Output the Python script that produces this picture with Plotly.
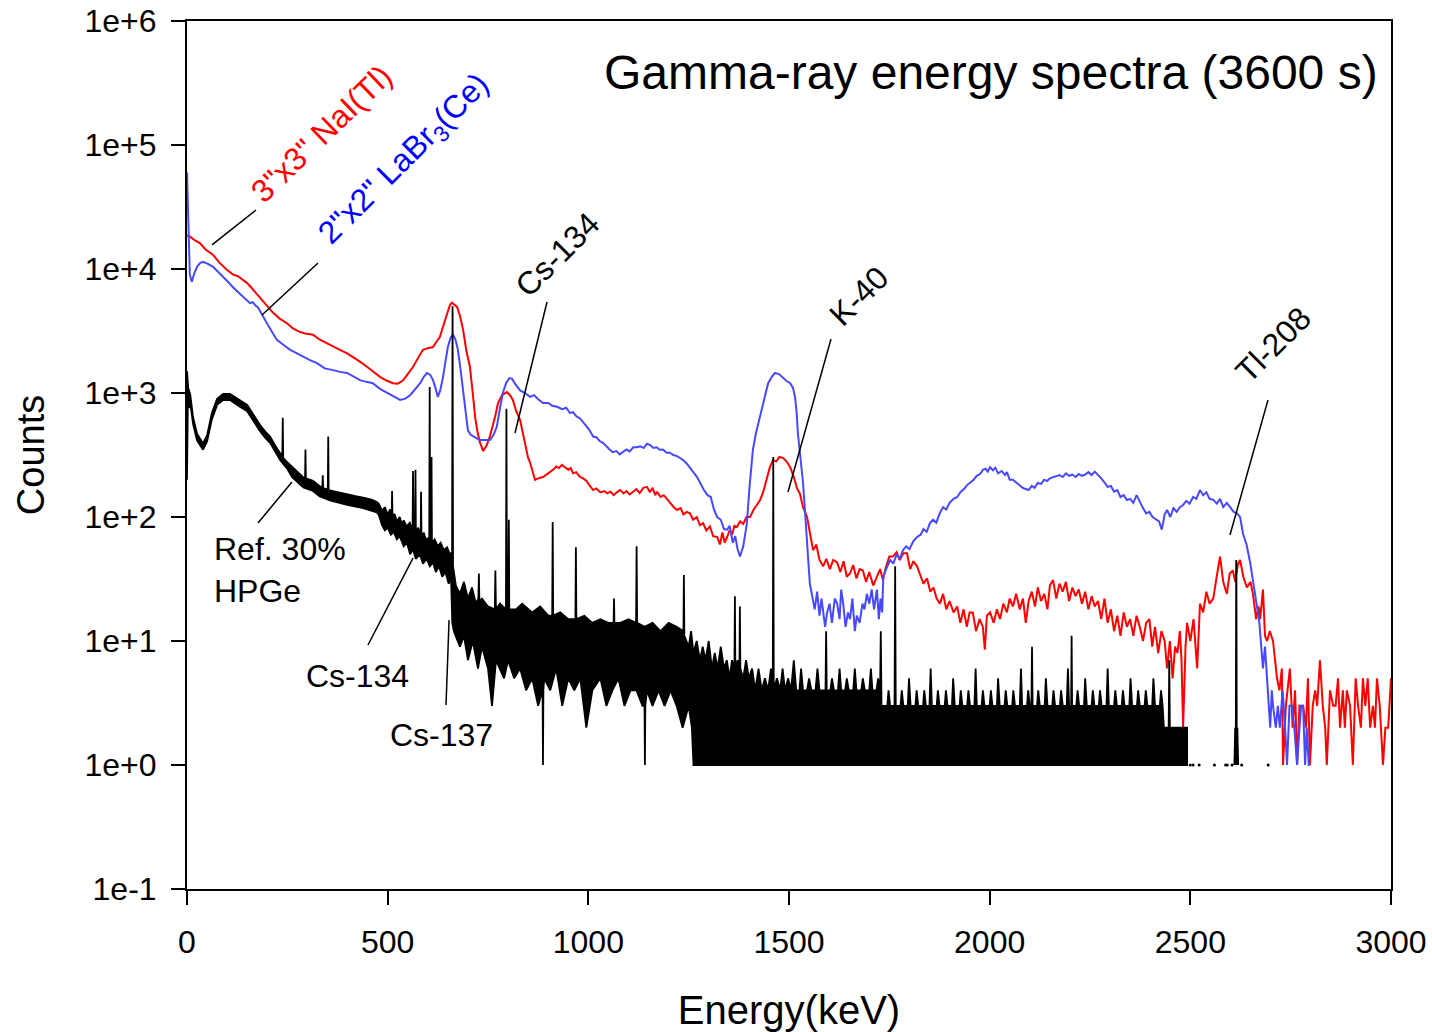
import plotly.graph_objects as go

# ---------------- data ----------------
# 3"x3" NaI(Tl) spectrum
red_energy = [
    0, 3, 10, 20, 32, 45, 65, 80, 100, 115,
    127, 140, 150, 165, 182, 198, 214, 230, 249, 265,
    282, 298, 314, 330, 349, 365, 381, 398, 414, 430,
    449, 465, 481, 497, 513, 525, 538, 550, 563, 575,
    588, 600, 613, 622, 630, 640, 648, 655, 660, 666,
    673, 680, 688, 696, 705, 712, 718, 724, 730, 738,
    747, 755, 762, 768, 775, 785, 797, 805, 812, 820,
    830, 842, 850, 855, 861, 867, 875, 887, 900, 912,
    920, 927, 934, 942, 950, 956, 962, 970, 978, 987,
    995, 1003, 1012, 1020, 1030, 1040, 1047, 1055, 1063, 1071,
    1079, 1088, 1095, 1103, 1111, 1120, 1128, 1137, 1146, 1153,
    1160, 1167, 1171, 1180, 1188, 1196, 1205, 1213, 1221, 1230,
    1237, 1245, 1253, 1261, 1270, 1278, 1286, 1294, 1303, 1311,
    1321, 1328, 1334, 1340, 1346, 1352, 1358, 1364, 1370, 1378,
    1386, 1394, 1403, 1412, 1420, 1428, 1436, 1444, 1452, 1460,
    1468, 1476, 1485, 1494, 1503, 1512, 1520, 1527, 1535, 1545,
    1552, 1560, 1568, 1576, 1585, 1593, 1602, 1610, 1620, 1628,
    1636, 1644, 1652, 1660, 1668, 1676, 1684, 1692, 1700, 1710,
    1719, 1727, 1734, 1742, 1750, 1759, 1768, 1776, 1785, 1794,
    1802, 1810, 1819, 1827, 1835, 1844, 1852, 1860, 1868, 1876,
    1884, 1892, 1900, 1910, 1919, 1927, 1935, 1943, 1950, 1958,
    1966, 1975, 1983, 1988, 1993, 2001, 2010, 2018, 2026, 2034,
    2043, 2050, 2058, 2066, 2075, 2083, 2090, 2097, 2105, 2113,
    2120, 2128, 2136, 2144, 2150, 2158, 2166, 2174, 2182, 2190,
    2198, 2206, 2214, 2222, 2230, 2238, 2246, 2254, 2262, 2270,
    2278, 2286, 2294, 2302, 2310, 2318, 2326, 2334, 2342, 2350,
    2358, 2366, 2374, 2382, 2390, 2398, 2405, 2412, 2420, 2428,
    2436, 2442, 2449, 2456, 2462, 2468, 2474, 2478, 2482, 2488,
    2492, 2500, 2508, 2517, 2524, 2532, 2540, 2548, 2557, 2565,
    2574, 2582, 2591, 2598, 2606, 2612, 2618, 2624, 2632, 2641,
    2650, 2656, 2664, 2670, 2674, 2681, 2686, 2691, 2698, 2706,
    2712, 2716, 2722, 2728, 2731, 2738, 2748, 2755, 2761, 2766,
    2772, 2781, 2788, 2793, 2798, 2805, 2811, 2816, 2823, 2830,
    2836, 2840, 2848, 2856, 2862, 2868, 2873, 2880, 2885, 2890,
    2898, 2905, 2912, 2918, 2925, 2930, 2936, 2942, 2948, 2955,
    2960, 2965, 2972, 2980, 2986, 2993, 3000,
]
red_counts = [
    18500, 18500, 18000, 17000, 16200, 14500, 13000, 11300, 9800, 9000,
    8750, 8200, 7700, 6800, 5900, 5100, 4450, 4000, 3650, 3300,
    3100, 3000, 2950, 2700, 2500, 2350, 2230, 2100, 1950, 1800,
    1620, 1480, 1350, 1260, 1200, 1190, 1260, 1420, 1620, 1900,
    2230, 2300, 2350, 2600, 2830, 3600, 4450, 5100, 5350, 5200,
    4950, 4200, 3230, 2200, 1620, 1000, 640, 480, 400, 340,
    380, 450, 535, 650, 830, 960, 1020, 960, 880, 720,
    605, 395, 300, 274, 230, 199, 205, 210, 225, 240,
    255, 248, 263, 250, 240, 248, 225, 230, 212, 205,
    196, 180, 165, 170, 158, 162, 155, 160, 150, 158,
    165, 155, 162, 152, 160, 168, 156, 172, 175, 160,
    170, 150, 160, 145, 150, 140, 128, 120, 114, 118,
    105, 110, 107, 95, 100, 86, 89, 78, 84, 70,
    69, 60, 75, 62, 69, 78, 72, 85, 83, 92,
    88, 100, 100, 115, 125, 137, 160, 200, 250, 288,
    280, 305, 300, 280, 252, 210, 170, 155, 120, 100,
    75, 54, 60, 45, 40, 46, 38, 45, 43, 36,
    44, 33, 35, 41, 32, 38, 37, 30, 36, 28,
    33, 38, 31, 40, 48, 48, 52, 45, 51, 51,
    38, 44, 40, 34, 29, 32, 25, 27, 22, 20,
    24, 18, 21, 17, 19, 14, 18, 13, 17, 17,
    12, 15, 13, 8.5, 16, 17, 14, 18, 15, 20,
    17, 22, 19, 24, 18, 22, 14, 21, 25, 19,
    27, 21, 24, 18, 28, 31, 22, 29, 25, 30,
    21, 27, 23, 26, 20, 25, 18, 23, 19, 21,
    15, 22, 14, 18, 12, 16, 11, 17, 13, 15,
    11, 16, 13, 10, 14, 15, 9, 13, 8, 12,
    10, 6, 10, 5, 9, 8, 12, 7, 2, 9,
    14, 10, 15, 6, 20, 17, 25, 20, 22, 32,
    48, 30, 24, 35, 37, 30, 41, 45, 33, 27,
    30, 24, 15, 19, 15, 26, 11, 10, 12, 10,
    7, 5, 4, 6, 1, 3, 6, 2, 4, 1,
    3, 3, 2, 5, 1, 3, 4, 3, 7, 3,
    2, 1, 4, 3, 3, 5, 2, 4, 2, 4,
    3, 1, 5, 3, 2, 5, 3, 5, 2, 3,
    2, 5, 3, 1, 2, 2, 5,
]

# 2"x2" LaBr3(Ce) spectrum
blue_energy = [
    0, 3, 7, 12, 18, 25, 33, 40, 52, 65,
    78, 90, 102, 115, 128, 140, 150, 157, 164, 170,
    177, 188, 199, 212, 224, 240, 257, 273, 289, 305,
    324, 343, 364, 381, 399, 415, 431, 447, 463, 481,
    498, 515, 531, 544, 556, 568, 581, 590, 598, 606,
    613, 619, 625, 631, 638, 644, 650, 657, 663, 669,
    675, 681, 688, 694, 700, 707, 713, 722, 730, 742,
    755, 764, 772, 780, 787, 795, 803, 810, 818, 830,
    842, 855, 865, 875, 887, 900, 910, 922, 935, 945,
    954, 962, 970, 980, 987, 995, 1003, 1012, 1020, 1028,
    1037, 1045, 1053, 1061, 1070, 1078, 1086, 1095, 1103, 1112,
    1121, 1130, 1138, 1146, 1154, 1162, 1170, 1178, 1186, 1195,
    1203, 1212, 1221, 1229, 1236, 1245, 1253, 1262, 1271, 1280,
    1288, 1297, 1305, 1313, 1321, 1330, 1338, 1346, 1352, 1360,
    1366, 1372, 1378, 1386, 1395, 1402, 1410, 1418, 1428, 1438,
    1448, 1457, 1465, 1475, 1485, 1494, 1503, 1510, 1515, 1519,
    1522, 1528, 1535, 1540, 1545, 1549, 1552, 1558, 1564, 1570,
    1576, 1581, 1585, 1590, 1595, 1601, 1607, 1614, 1620, 1626,
    1630, 1635, 1641, 1647, 1652, 1658, 1664, 1669, 1676, 1683,
    1688, 1694, 1700, 1706, 1712, 1719, 1724, 1728, 1732, 1735,
    1742, 1752, 1760, 1768, 1776, 1784, 1792, 1800, 1810, 1819,
    1828, 1835, 1843, 1851, 1859, 1867, 1876, 1884, 1892, 1900,
    1910, 1919, 1928, 1936, 1943, 1951, 1960, 1968, 1976, 1983,
    1990, 1995, 2001, 2008, 2014, 2021, 2030, 2038, 2043, 2050,
    2058, 2066, 2074, 2082, 2090, 2097, 2105, 2112, 2120, 2128,
    2136, 2143, 2150, 2158, 2166, 2174, 2182, 2190, 2198, 2206,
    2214, 2222, 2230, 2238, 2246, 2254, 2262, 2270, 2278, 2286,
    2294, 2302, 2310, 2318, 2326, 2334, 2342, 2350, 2358, 2366,
    2374, 2382, 2390, 2398, 2406, 2414, 2422, 2429, 2436, 2442,
    2450, 2458, 2466, 2474, 2482, 2490, 2498, 2507, 2515, 2524,
    2532, 2540, 2548, 2557, 2566, 2574, 2582, 2591, 2600, 2608,
    2616, 2624, 2631, 2640, 2649, 2657, 2666, 2672, 2677, 2681,
    2686, 2691, 2695, 2699, 2703, 2706, 2713, 2718, 2723, 2730,
    2736, 2741, 2747, 2753, 2759, 2766, 2772, 2776, 2781, 2786,
    2790, 2795, 2798,
]
blue_counts = [
    60000, 30000, 9000, 7900, 9200, 10400, 11200, 11400, 11000, 10400,
    9500, 8700, 7900, 7100, 6500, 5900, 5500, 5300, 5400, 5100,
    4900, 4200, 3660, 3100, 2680, 2450, 2230, 2100, 1960, 1850,
    1740, 1580, 1530, 1480, 1450, 1350, 1270, 1230, 1200, 1080,
    1000, 940, 880, 900, 960, 1080, 1200, 1350, 1450, 1400,
    1270, 1100, 930, 1050, 1350, 1800, 2350, 2800, 2950, 2700,
    2230, 1600, 1050, 700, 500, 460, 445, 430, 418, 420,
    418, 460, 535, 760, 1000, 1200, 1320, 1300, 1180, 1050,
    1000, 930, 960, 890, 830, 830, 790, 775, 740, 760,
    690, 700, 650, 620, 575, 540, 500, 445, 440, 410,
    395, 370, 350, 333, 340, 320, 333, 350, 338, 365,
    365, 372, 360, 390, 380, 360, 365, 348, 350, 330,
    330, 316, 310, 300, 288, 270, 250, 225, 210, 185,
    165, 150, 145, 115, 100, 95, 80, 79, 85, 62,
    70, 55, 48, 58, 89, 180, 348, 480, 640, 900,
    1200, 1350, 1450, 1420, 1320, 1250, 1200, 1100, 930, 700,
    478, 300, 188, 110, 69, 40, 29, 22, 18, 25,
    16, 22, 18, 13, 17, 20, 14, 22, 20, 15,
    26, 20, 13, 17, 15, 22, 12, 16, 14, 20,
    18, 24, 20, 26, 18, 26, 15, 22, 17, 33,
    38, 45, 42, 50, 46, 54, 58, 55, 64, 69,
    72, 80, 76, 89, 95, 90, 108, 120, 115, 130,
    140, 145, 160, 168, 180, 188, 200, 215, 222, 240,
    245, 232, 252, 238, 250, 225, 235, 218, 230, 200,
    200, 190, 182, 172, 168, 165, 178, 172, 188, 185,
    200, 195, 205, 210, 212, 218, 210, 225, 215, 220,
    210, 222, 215, 220, 230, 218, 232, 220, 205, 190,
    175, 178, 160, 165, 145, 150, 137, 140, 130, 150,
    132, 118, 107, 110, 100, 96, 92, 79, 105, 114,
    100, 118, 110, 120, 125, 135, 128, 145, 140, 165,
    150, 158, 140, 138, 128, 140, 120, 130, 118, 110,
    107, 100, 74, 60, 43, 30, 19, 14, 9, 6,
    9, 5, 3, 2, 4, 3, 2, 3, 2, 4,
    2, 1, 3, 3, 2, 1, 2, 3, 3, 1,
    2, 1, 1,
]

# Ref. 30% HPGe spectrum: upper edge of the dense trace (with the lines) ...
black_hi_energy = [
    0, 3, 8, 15, 25, 40, 50, 62, 75, 90,
    107, 130, 150, 170, 182, 195, 207, 220, 232, 237.5,
    238.6, 239.7, 249, 262, 274, 290, 294.2, 295.2, 296.2, 314,
    330, 337.3, 338.3, 339.3, 350.9, 351.9, 352.9, 370, 399, 420,
    439, 460, 473, 478, 486, 493, 500, 506, 510, 511,
    512, 517, 523, 530, 535, 540, 547, 555, 562, 563.2,
    564.4, 568.3, 569.3, 570.3, 576, 581, 582.2, 583.2, 584.2, 590,
    595, 603.6, 604.7, 605.8, 608.3, 609.3, 610.3, 617, 625, 632,
    640, 648, 655, 660.5, 661.7, 662.9, 670, 680, 690, 700,
    710, 720, 726, 727.3, 728.5, 735, 750, 767, 768.4, 769.8,
    780, 794.7, 795.9, 797.1, 800.8, 801.9, 803, 820, 835, 860,
    880, 900, 910, 911.2, 912.4, 930, 950, 967.8, 969, 970.2,
    990, 1010, 1030, 1050, 1063, 1064, 1065, 1080, 1100, 1119,
    1120.3, 1121.6, 1140, 1160, 1180, 1200, 1220, 1237, 1238.1, 1239.2,
    1250, 1256, 1262, 1270, 1278, 1285, 1292, 1300, 1308, 1315,
    1322, 1330, 1338, 1345, 1352, 1358, 1364, 1365.2, 1366.4, 1372,
    1376.4, 1377.6, 1378.8, 1386, 1393, 1400, 1408, 1416, 1424, 1432,
    1440, 1448, 1455, 1459.6, 1460.8, 1462, 1470, 1478, 1484, 1490,
    1498, 1505, 1512, 1518, 1526, 1530, 1535, 1545, 1550, 1556,
    1566, 1571, 1576, 1586, 1591, 1592.5, 1594, 1603, 1607, 1612,
    1622, 1626, 1630, 1640, 1644, 1649, 1660, 1664, 1668, 1680,
    1684, 1689, 1700, 1704, 1708, 1718, 1722, 1727, 1728.7, 1730.5,
    1745, 1748, 1752, 1763, 1764.5, 1766, 1778, 1781, 1785, 1796,
    1799, 1803, 1815, 1818, 1822, 1834, 1837, 1841, 1850, 1853,
    1856, 1868, 1871, 1875, 1888, 1891, 1895, 1906, 1909, 1913,
    1925, 1928, 1932, 1944, 1947, 1951, 1962, 1965, 1968, 1980,
    1983, 1987, 2000, 2003, 2007, 2018, 2021, 2025, 2037, 2040,
    2044, 2056, 2059, 2063, 2075, 2078, 2081, 2093, 2096, 2100,
    2104, 2105.5, 2107, 2118, 2121, 2125, 2137, 2140, 2144, 2156,
    2159, 2163, 2175, 2178, 2182, 2192, 2195, 2198, 2203, 2204.2,
    2205.4, 2216, 2219, 2223, 2235, 2238, 2242, 2254, 2257, 2261,
    2272, 2275, 2279, 2291, 2294, 2297, 2310, 2313, 2317, 2329,
    2332, 2336, 2348, 2351, 2355, 2367, 2370, 2374, 2386, 2389,
    2393, 2405, 2408, 2412, 2424, 2427, 2431, 2434, 2446, 2447.5,
    2449, 2460, 2470, 2492,
]
black_hi = [
    1500, 1100, 980, 640, 470, 392, 455, 690, 900, 985,
    985, 880, 800, 636, 551, 488, 445, 376, 323, 307,
    630, 300, 278, 253, 231, 209, 207, 350, 205, 196,
    178, 172, 217, 171, 166, 445, 165, 160, 151, 147,
    143, 138, 132, 128, 112, 120, 105, 115, 100, 162,
    98, 106, 92, 100, 88, 94, 84, 90, 78, 235,
    78, 80, 240, 76, 82, 72, 72, 160, 72, 74,
    66, 68, 1120, 65, 64, 305, 62, 66, 58, 62,
    54, 57, 50, 52, 5000, 40, 28, 24, 30, 22,
    27, 20, 22, 35, 21, 22, 19, 18, 37, 18,
    20, 18, 745, 22, 20, 95, 18, 18, 20, 17,
    19, 16, 16, 91, 16, 17, 15, 15, 57, 15,
    16, 14, 15, 14, 14, 22, 14, 14, 15, 14,
    58, 14, 13, 14, 12, 14, 13, 12, 34, 11,
    9, 12, 8, 10, 7, 9, 7, 10, 6, 8,
    6, 9, 6, 7, 5, 7, 6, 23, 6, 7,
    6, 19, 6, 5, 7, 5, 6, 4, 6, 4,
    5, 4, 6, 4, 305, 4, 5, 4, 6, 4,
    5, 4, 7, 4, 4, 6, 4, 4, 5, 4,
    4, 6, 4, 4, 4, 12, 4, 4, 5, 4,
    4, 6, 4, 4, 5, 4, 4, 6, 4, 4,
    5, 4, 4, 6, 4, 4, 5, 4, 12, 3,
    3, 4, 3, 3, 40, 3, 3, 4, 3, 3,
    5, 3, 3, 4, 3, 3, 4, 3, 3, 6,
    3, 3, 4, 3, 3, 4, 3, 3, 5, 3,
    3, 4, 3, 3, 4, 3, 3, 6, 3, 3,
    4, 3, 3, 4, 3, 3, 5, 3, 3, 4,
    3, 3, 4, 3, 3, 6, 3, 3, 4, 3,
    3, 9, 3, 3, 4, 3, 3, 5, 3, 3,
    4, 3, 3, 4, 3, 3, 6, 3, 3, 11,
    3, 3, 4, 3, 3, 5, 3, 3, 4, 3,
    3, 4, 3, 3, 6, 3, 3, 4, 3, 3,
    4, 3, 3, 5, 3, 3, 4, 3, 3, 4,
    3, 3, 5, 3, 3, 4, 3, 2, 2, 7,
    2, 2, 2, 2,
]
# ... and lower edge of the dense trace
black_lo_energy = [
    0, 2, 10, 15, 25, 40, 50, 62, 75, 90,
    107, 130, 150, 170, 182, 195, 207, 220, 232, 249,
    262, 274, 290, 314, 330, 356, 399, 439, 473, 478,
    486, 493, 500, 508, 515, 523, 530, 540, 548, 556,
    563, 570, 580, 588, 597, 605, 613, 620, 628, 636,
    644, 652, 658, 661, 665, 680, 690, 700, 712, 725,
    735, 750, 760, 770, 790, 800, 815, 830, 845, 860,
    875, 886, 887, 888, 890, 905, 920, 935, 950, 965,
    980, 995, 1010, 1030, 1045, 1060, 1075, 1090, 1105, 1120,
    1135, 1140, 1141, 1142, 1146, 1160, 1175, 1190, 1205, 1220,
    1235, 1250, 1258, 1262, 2492,
]
black_lo = [
    200, 800, 750, 566, 415, 349, 406, 613, 802, 877,
    877, 783, 712, 566, 491, 434, 396, 335, 288, 247,
    209, 191, 173, 162, 147, 136, 125, 118, 109, 104,
    86, 78, 82, 72, 76, 66, 70, 58, 62, 50,
    55, 46, 50, 42, 46, 40, 43, 36, 40, 33,
    36, 29, 32, 14, 12, 9, 11, 7, 10, 6,
    9, 6, 3, 7, 5, 7, 5, 6, 4, 5,
    3, 4, 1, 4, 5, 4, 6, 3, 5, 4,
    5, 2, 4, 5, 3, 4, 5, 3, 4, 4,
    3, 3, 1, 3, 4, 3, 4, 3, 4, 3,
    2, 3, 2, 1, 1,
]
# HPGe Tl-208 line region and isolated single counts
tl_energy = [2610, 2612, 2613.5, 2614.5, 2615.5, 2617, 2619]
tl_counts = [1, 2, 1, 45, 1, 2, 1]
single_energy = [2500, 2507, 2522, 2560, 2588, 2592, 2604, 2628, 2694]
single_counts = [1, 1, 1, 1, 1, 1, 1, 1, 1]

x_ticks = [0, 500, 1000, 1500, 2000, 2500, 3000]
y_ticks = [0.1, 1, 10, 100, 1000, 10000, 100000, 1000000]
y_tick_text = ["1e-1", "1e+0", "1e+1", "1e+2", "1e+3", "1e+4", "1e+5", "1e+6"]

# ---------------- figure ----------------
FONT = "Liberation Sans, Arial, sans-serif"

fig = go.Figure()
fig.add_trace(go.Scatter(x=red_energy, y=red_counts, mode="lines",
                         line=dict(color="#ff0000", width=2), name="NaI(Tl)"))
fig.add_trace(go.Scatter(x=blue_energy, y=blue_counts, mode="lines",
                         line=dict(color="#4848ff", width=2), name="LaBr3(Ce)"))
poly_x = black_hi_energy + black_lo_energy[::-1]
poly_y = black_hi + black_lo[::-1]
fig.add_trace(go.Scatter(x=poly_x, y=poly_y, mode="lines", fill="toself",
                         fillcolor="#000000", line=dict(color="#000000", width=1.8),
                         name="HPGe"))
fig.add_trace(go.Scatter(x=tl_energy, y=tl_counts, mode="lines",
                         line=dict(color="#000000", width=2), name="HPGe Tl"))
fig.add_trace(go.Scatter(x=single_energy, y=single_counts, mode="markers",
                         marker=dict(color="#000000", size=3), name="HPGe single"))

# leader lines: (energy0, log10 counts0, energy1, log10 counts1)
leaders = [
    (62.3, 4.194, 171.9, 4.476),
    (186.9, 3.629, 326.4, 4.048),
    (817.3, 2.677, 897.0, 3.734),
    (1497.5, 2.202, 1604.7, 3.435),
    (2598.8, 1.855, 2693.5, 2.944),
    (176.9, 1.952, 261.6, 2.282),
    (451.0, 0.968, 563.1, 1.669),
    (645.4, 0.484, 653.0, 1.169),
]
shapes = [dict(type="line", xref="x", yref="y", x0=a, y0=10 ** b, x1=c, y1=10 ** d,
               line=dict(color="black", width=1.5)) for a, b, c, d in leaders]

def ann(text, x, y, size=32, color="black", angle=0, xanchor="center", align="center"):
    return dict(text=text, x=x, y=y, xref="x", yref="y", showarrow=False,
                textangle=angle, xanchor=xanchor, yanchor="middle", align=align,
                font=dict(family=FONT, size=size, color=color))

annotations = [
    ann("Gamma-ray energy spectra (3600 s)", 2003, 5.581, size=48),
    ann('3"x3" NaI(Tl)', 334, 5.089, color="#ff0000", angle=-44),
    ann('2"x2" LaBr<sub>3</sub>(Ce)', 541, 4.879, color="#0000ff", angle=-45),
    ann("Cs-134", 922, 4.113, angle=-45),
    ann("K-40", 1674, 3.782, angle=-45),
    ann("Tl-208", 2706, 3.387, angle=-45),
    ann("Ref. 30%<br>HPGe", 62, 1.573, xanchor="left", align="left"),
    ann("Cs-134", 426, 0.718),
    ann("Cs-137", 635, 0.242),
]

fig.update_layout(
    width=1432, height=1032,
    margin=dict(l=187, r=41, t=21, b=143),
    paper_bgcolor="white", plot_bgcolor="white",
    showlegend=False,
    font=dict(family=FONT, color="black"),
    shapes=shapes, annotations=annotations,
)
fig.update_xaxes(
    range=[0, 3000], tickvals=x_ticks, ticks="outside", ticklen=14, tickwidth=2,
    tickcolor="black", showline=True, linecolor="black", linewidth=2, mirror=True,
    showgrid=False, zeroline=False, automargin=False,
    tickfont=dict(family=FONT, size=32, color="black"),
    ticklabelstandoff=10,
    title=dict(text="Energy(keV)", font=dict(family=FONT, size=40, color="black"), standoff=37),
)
fig.update_yaxes(
    type="log", range=[-1, 6], tickvals=y_ticks, ticktext=y_tick_text,
    ticks="outside", ticklen=14, tickwidth=2, tickcolor="black",
    showline=True, linecolor="black", linewidth=2, mirror=True,
    showgrid=False, zeroline=False, automargin=False,
    tickfont=dict(family=FONT, size=32, color="black"),
    ticklabelstandoff=8,
    title=dict(text="Counts", font=dict(family=FONT, size=38, color="black"), standoff=28),
)

fig.write_html("out.html")
